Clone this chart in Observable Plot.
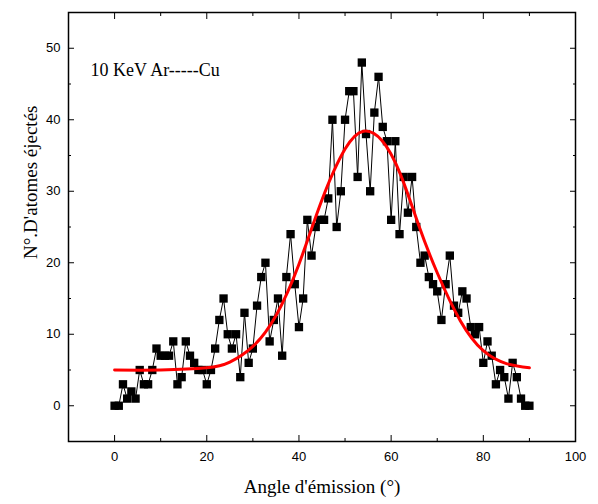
<!DOCTYPE html>
<html>
<head>
<meta charset="utf-8">
<script src="https://cdn.jsdelivr.net/npm/d3@7"></script>
<script src="https://cdn.jsdelivr.net/npm/@observablehq/plot@0.6"></script>
<style>
  html, body { margin: 0; padding: 0; background: #fff; }
  #chart svg { display: block; }
</style>
</head>
<body>
<div id="chart"></div>
<script>
// Emission angle (degrees) of each simulated point
const angles = [
  0, 0.91, 1.82, 2.73, 3.64, 4.55, 5.45, 6.36, 7.27, 8.18,
  9.09, 10.0, 10.91, 11.82, 12.73, 13.64, 14.55, 15.45, 16.36, 17.27,
  18.18, 19.09, 20.0, 20.91, 21.82, 22.73, 23.64, 24.55, 25.45, 26.36,
  27.27, 28.18, 29.09, 30.0, 30.91, 31.82, 32.73, 33.64, 34.55, 35.45,
  36.36, 37.27, 38.18, 39.09, 40.0, 40.91, 41.82, 42.73, 43.64, 44.55,
  45.45, 46.36, 47.27, 48.18, 49.09, 50.0, 50.91, 51.82, 52.73, 53.64,
  54.55, 55.45, 56.36, 57.27, 58.18, 59.09, 60.0, 60.91, 61.82, 62.73,
  63.64, 64.55, 65.45, 66.36, 67.27, 68.18, 69.09, 70.0, 70.91, 71.82,
  72.73, 73.64, 74.55, 75.45, 76.36, 77.27, 78.18, 79.09, 80.0, 80.91,
  81.82, 82.73, 83.64, 84.55, 85.45, 86.36, 87.27, 88.18, 89.09, 90.0
];
// Number of ejected atoms at each angle
const counts = [
  0, 0, 3, 1, 2, 1, 5, 3, 3, 5,
  8, 7, 7, 7, 9, 3, 4, 9, 7, 6,
  5, 5, 3, 5, 8, 12, 15, 10, 8, 10,
  4, 13, 6, 8, 14, 18, 20, 9, 12, 15,
  7, 18, 24, 17, 11, 15, 26, 21, 25, 26,
  26, 29, 40, 25, 30, 40, 44, 44, 32, 48,
  38, 30, 41, 46, 39, 37, 26, 37, 24, 32,
  27, 32, 25, 20, 21, 18, 17, 16, 12, 17,
  21, 14, 13, 16, 15, 11, 10, 11, 6, 9,
  7, 3, 5, 4, 1, 6, 4, 1, 0, 0
];
// Red fitted curve
const fitAngles = [0, 10, 20, 25, 30, 35, 40, 45, 50, 54, 58, 62, 66, 70, 75, 80, 85, 90];
const fitCounts = [5.0, 5.0, 5.3, 6.1, 8.3, 12.6, 19.8, 28.8, 35.9, 38.4, 37.1, 32.4, 25.2, 18.6, 11.9, 7.7, 5.9, 5.3];

const xMajor = [0, 20, 40, 60, 80, 100];
const xMinor = [-10, 10, 30, 50, 70, 90];
const yMajor = [0, 10, 20, 30, 40, 50];
const yMinor = [-5, 5, 15, 25, 35, 45];

const annotation = "10 KeV Ar-----Cu";
const xLabel = "Angle d'émission (°)";
const yLabel = "N°.D'atomes éjectés";

const points = angles.map((a, i) => ({angle: a, count: counts[i]}));
const fit = fitAngles.map((a, i) => ({angle: a, count: fitCounts[i]}));

const serif = "'Liberation Serif', 'Times New Roman', serif";
const sans = "'Liberation Sans', Arial, sans-serif";

const chart = Plot.plot({
  width: 598,
  height: 504,
  marginLeft: 68,
  marginRight: 23,
  marginTop: 12,
  marginBottom: 63,
  style: {fontFamily: sans, fontSize: "13px", color: "#000", background: "#fff", overflow: "visible"},
  x: {domain: [-10, 100]},
  y: {domain: [-5, 55]},
  marks: [
    // major/minor ticks, all four sides, pointing inward
    Plot.axisX(xMajor, {anchor: "bottom", tickSize: -6, tickPadding: 16, label: null, fontSize: 13}),
    Plot.axisX(xMinor, {anchor: "bottom", tickSize: -3, tickFormat: () => "", label: null}),
    Plot.axisX(xMajor, {anchor: "top", tickSize: -6, tickFormat: () => "", label: null}),
    Plot.axisX(xMinor, {anchor: "top", tickSize: -3, tickFormat: () => "", label: null}),
    Plot.axisY(yMajor, {anchor: "left", tickSize: -6, tickPadding: 14, label: null, fontSize: 13}),
    Plot.axisY(yMinor, {anchor: "left", tickSize: -3, tickFormat: () => "", label: null}),
    Plot.axisY(yMajor, {anchor: "right", tickSize: -6, tickFormat: () => "", label: null}),
    Plot.axisY(yMinor, {anchor: "right", tickSize: -3, tickFormat: () => "", label: null}),
    Plot.frame({stroke: "#000", strokeWidth: 1.5}),
    Plot.line(points, {x: "angle", y: "count", stroke: "#000", strokeWidth: 1}),
    Plot.dot(points, {x: "angle", y: "count", symbol: "square", r: 4.7, fill: "#000", stroke: "none"}),
    Plot.line(fit, {x: "angle", y: "count", curve: "natural", stroke: "#ff0000", strokeWidth: 3}),
    Plot.text([annotation], {frameAnchor: "top-left", dx: 22, dy: 51, textAnchor: "start",
      fontFamily: serif, fontSize: 18, fill: "#000"}),
    Plot.text([xLabel], {frameAnchor: "bottom", dy: 51, fontFamily: serif, fontSize: 19, fill: "#000"}),
    Plot.text([yLabel], {frameAnchor: "left", dx: -38, dy: 32, rotate: -90, fontFamily: serif, fontSize: 19, fill: "#000"})
  ]
});

document.getElementById("chart").appendChild(chart);
</script>
</body>
</html>
